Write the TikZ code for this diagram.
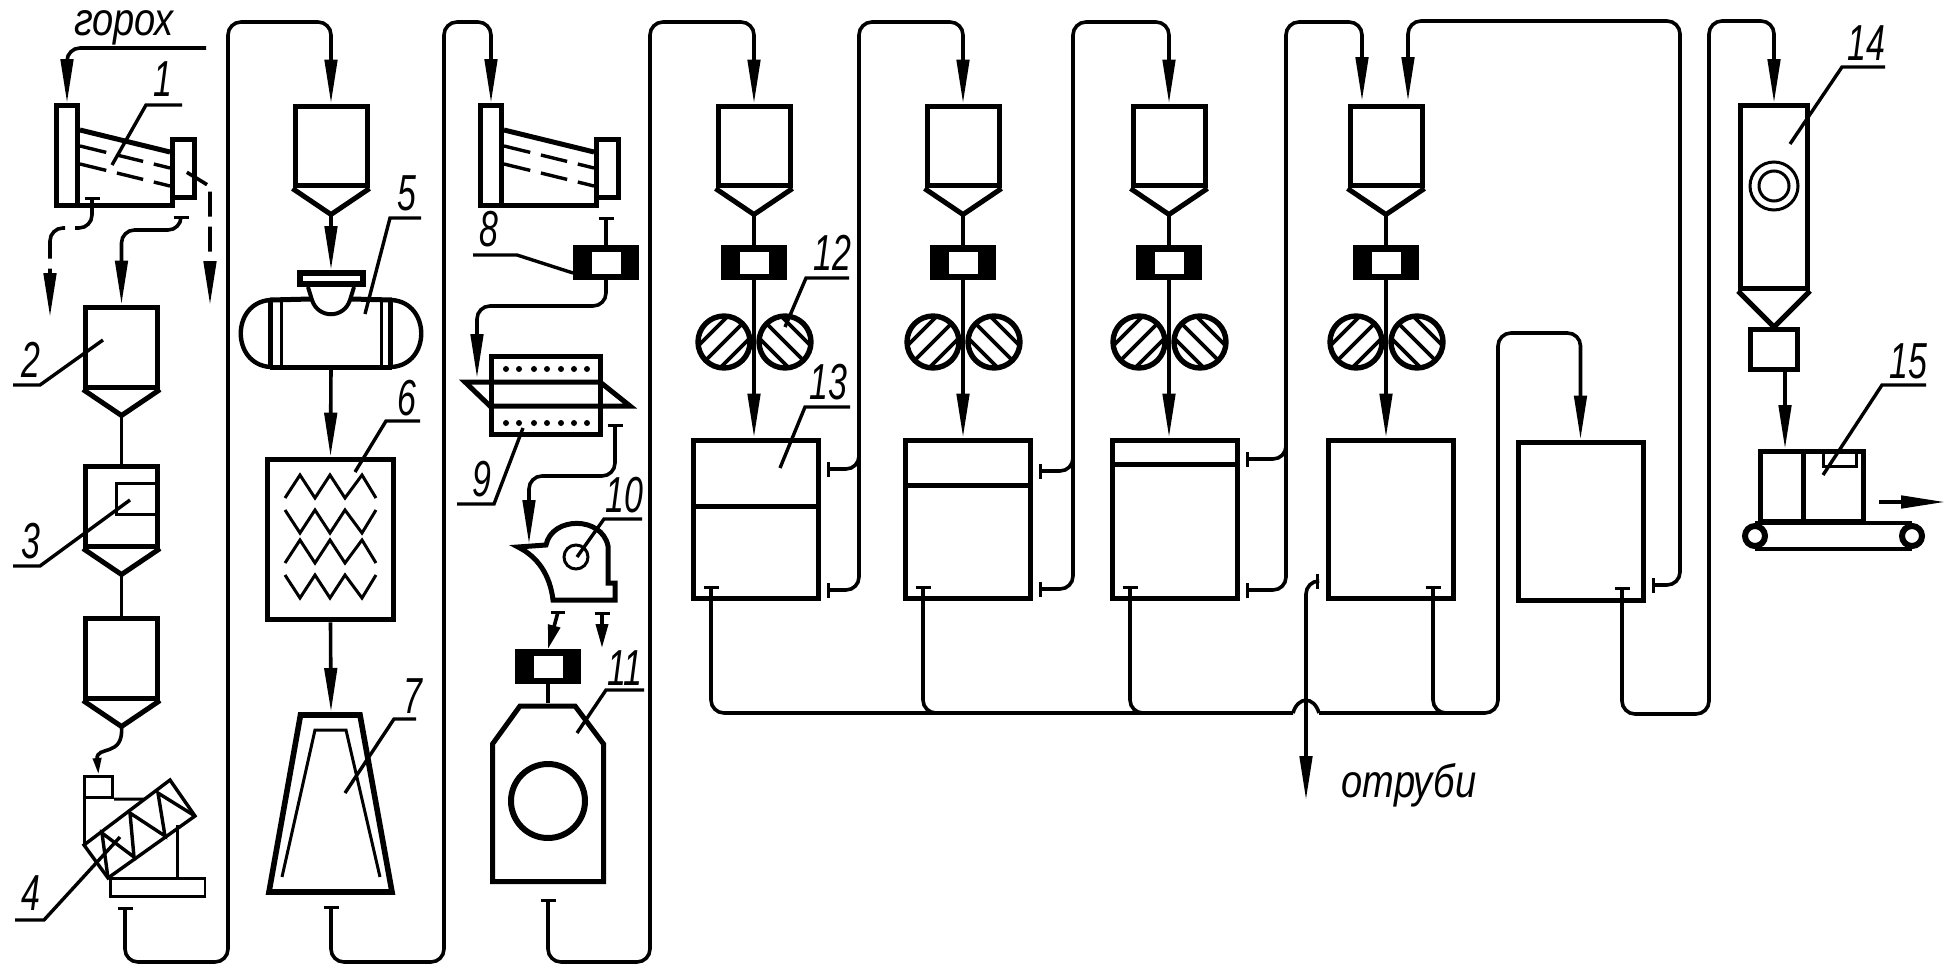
\documentclass[tikz,border=0pt]{standalone}
\usepackage{fontspec}
\setmainfont{Liberation Sans}
\newfontfamily\numfont[FakeStretch=0.67]{Liberation Sans}
\newfontfamily\wordfont[FakeStretch=0.82]{Liberation Sans}
\usetikzlibrary{arrows.meta,calc}

% hopper body with its cone
\newcommand{\hopper}[2]{%
  \node[bunker] (#1) at (#2) {};
  \coordinate (#1tip) at ($(#1.south)+(0,26)$);
  \draw[wall] (#1.south west) -- (#1tip) -- (#1.south east);}
% magnet block with its window
\newcommand{\magnet}[2]{%
  \node[magcase] (#1) at (#2) {};
  \node[magwin] (#1w) at (#1) {};}
% number with leader: name, digit, base of digit, tip, knee, end
\newcommand{\callout}[6]{%
  \node[num] (#1) at (#3) {#2};
  \coordinate (#1tip) at (#4);
  \coordinate (#1knee) at (#5);
  \coordinate (#1end) at (#6);
  \draw[leader] (#1tip) -- (#1knee) -- (#1end);}
% sifter: name, shift
\newcommand{\sifter}[2]{%
  \begin{scope}[xshift=#2*0.05cm]
    \node[wallbox, minimum width=1.05cm, minimum height=5cm] (#1a) at (67,155.5) {};
    \node[wallbox, minimum width=1.1cm, minimum height=2.9cm] (#1b) at (183.5,168.5) {};
    \draw[wall] (#1a.east |- 0,130) -- (170,152);
    \draw[wall] (#1a.east |- 0,205.5) -- (172.5,205.5) -- (172.5,198);
    \draw[sieve] (#1a.east |- 0,146) -- (170,168);
    \draw[sieve] (#1a.east |- 0,164) -- (170,186);
  \end{scope}}
% mill stage: letter, x
\newcommand{\millstage}[2]{%
  \hopper{HP#1}{#2,146}
  \magnet{MG#1}{#2,262.5}
  \node[rollL] (RL#1) at (#2-30,342) {};
  \node[rollR] (RR#1) at (#2+31,342) {};
  \draw[feed] (HP#1tip) -- (MG#1.north);
  \draw[pipe,->] (MG#1.south) -- (MG#1.south |- TK#1.north);}

\begin{document}
\begin{tikzpicture}[
  x=0.05cm, y=-0.05cm,
  >={Triangle[length=2.2cm,width=0.62cm]},
  tee/.tip={Bar[width=0.75cm,line width=0.15cm]},
  short/.tip={Triangle[length=1.2cm,width=0.6cm]},
  wall/.style={line width=0.25cm},
  wallbox/.style={wall, draw, inner sep=0pt},
  thinbox/.style={line width=0.15cm, draw, inner sep=0pt},
  bunker/.style={wallbox, minimum width=3.6cm, minimum height=4cm},
  tank/.style={wallbox, minimum width=6.25cm, minimum height=7.9cm},
  magcase/.style={fill=black, inner sep=0pt, outer sep=0pt, minimum width=3.32cm, minimum height=1.75cm},
  magwin/.style={fill=white, inner sep=0pt, outer sep=0pt, minimum width=1.45cm, minimum height=1.1cm},
  rollL/.style={circle, draw, line width=0.27cm, inner sep=0pt, minimum size=2.6cm,
    path picture={\foreach \k in {-11,0,11}
      \draw[line width=0.18cm] ([shift={(\k-30,\k+30)}]path picture bounding box.center) -- ++(60,-60);}},
  rollR/.style={circle, draw, line width=0.27cm, inner sep=0pt, minimum size=2.6cm,
    path picture={\foreach \k in {-11,0,11}
      \draw[line width=0.18cm] ([shift={(\k-30,-\k-30)}]path picture bounding box.center) -- ++(60,60);}},
  pulley/.style={circle, draw, fill=white, line width=0.3cm, inner sep=0pt, minimum size=1cm},
  sieve/.style={line width=0.17cm, dash pattern=on 1.35cm off 0.55cm},
  thin line/.style={line width=0.15cm},
  leader/.style={line width=0.17cm},
  feed/.style={line width=0.18cm},
  pipe/.style={line width=0.18cm, rounded corners=0.65cm},
  scrap/.style={pipe, dash pattern=on 2cm off 0.5cm},
  num/.style={anchor=base, inner sep=0pt, font=\numfont\itshape\fontsize{72}{72}\selectfont},
  word/.style={anchor=base, inner sep=0pt, font=\wordfont\itshape\fontsize{66}{66}\selectfont},
]
\useasboundingbox (0,0) rectangle (1950,964);

% ---- tanks ----
\node[tank] (TKA) at (756,519) {};
\node[tank] (TKB) at (968,519) {};
\node[tank] (TKC) at (1174.5,519) {};
\node[tank] (TKD) at (1391,519) {};
\node[tank] (TKE) at (1580.5,521) {};
\draw[wall] (TKA.west |- 0,506) -- (TKA.east |- 0,506);
\draw[wall] (TKB.west |- 0,485) -- (TKB.east |- 0,485);
\draw[wall] (TKC.west |- 0,464) -- (TKC.east |- 0,464);

% ---- mill stages ----
\millstage{A}{754}
\millstage{B}{963}
\millstage{C}{1169}
\millstage{D}{1386}

% ---- first column ----
\node[word] (PEA) at (124,36) {горох};
\sifter{SA}{0}
\hopper{HPP}{121.5,347}
\hopper{HPQ}{121.5,506}
\hopper{HPR}{121.5,658}
\node[thinbox, minimum width=2.08cm, minimum height=1.55cm] (MAG3) at (136.8,498.5) {};
\node[thinbox, minimum width=1.4cm, minimum height=1.05cm, line width=0.15cm] (SC4) at (98.5,787) {};
\node[thinbox, minimum width=4.75cm, minimum height=0.9cm] (BS4) at (157.5,887) {};
\draw[thin line] (84,797) -- (84,845);
\draw[thin line] (SC4.south east) -- (145,799);
\draw[line width=0.17cm] (84,845) -- (170,780) -- (195,816) -- (108,878) -- cycle;
\draw[line width=0.17cm] (108,878) -- (102,833) -- (134,857) -- (130,813) -- (165,836) -- (158,793) -- (195,816);
\draw[thin line] (177,825) -- (BS4.north -| 177,0);

% ---- second column ----
\hopper{HPS}{331,146}
\node[wallbox, line width=0.3cm, minimum width=3.15cm, minimum height=0.55cm] (M5) at (331,278.5) {};
\draw[line width=0.2cm] (308,287) -- (312,300) .. controls (318,319) and (344,319) .. (350,300) -- (354,287);
\draw[wall] (270,300) -- (311,299);
\draw[wall] (351,299) -- (392,300);
\draw[wall] (270,367) -- (392,367);
\draw[wall] (270.5,300) -- (270.5,367);
\draw[thin line] (281,300) -- (281,367);
\draw[thin line] (381,300) -- (381,367);
\draw[wall] (390.5,300) -- (390.5,367);
\draw[line width=0.22cm] (270,300) .. controls (231,303) and (231,364) .. (270,367);
\draw[line width=0.22cm] (392,300) .. controls (431,303) and (431,364) .. (392,367);
\coordinate (M5out) at (331,367);
\node[wallbox, line width=0.28cm, minimum width=6.3cm, minimum height=8cm] (M6) at (330.5,539.5) {};
\draw[thin line] (285,498) -- (300,475) -- (315,498) -- (330,475) -- (345,498) -- (362,475) -- (376,498);
\draw[thin line] (285,510) -- (300,533) -- (315,510) -- (330,533) -- (345,510) -- (362,533) -- (376,510);
\draw[thin line] (285,563) -- (300,540) -- (315,563) -- (330,540) -- (345,563) -- (362,540) -- (376,563);
\draw[thin line] (285,575) -- (300,598) -- (315,575) -- (330,598) -- (345,575) -- (362,598) -- (376,575);
\coordinate (M7top) at (331,712);
\draw[line width=0.28cm] (300.5,715) -- (360,715) -- (392,892) -- (269,892) -- cycle;
\draw[thin line] (282,877) -- (315,730) -- (346,730) -- (380,877);

% ---- third column ----
\sifter{SB}{424}
\magnet{M8}{606,262.5}
\node[wallbox, minimum width=5.45cm, minimum height=3.9cm] (M9) at (546,395.5) {};
\foreach \dotx in {506,519,534,547,561,574,587} {
  \fill (\dotx,369) circle [radius=3];
  \fill (\dotx,423) circle [radius=3];
}
\draw[wall] (465,382) -- (600,382) -- (630,406) -- (490,406) -- cycle;
\draw[wall] (518,547) -- (546,545) .. controls (552,516) and (602,516) .. (608,546) -- (608,583)
  -- (615,583) -- (615,600) -- (553,600) .. controls (550,575) and (538,557) .. cycle;
\draw[thin line] (576,557) circle [radius=12];
\coordinate (M10in) at (529,544);
\magnet{M11m}{548,666.5}
\draw[wall] (520,706) -- (575,706) -- (603.5,744) -- (603.5,881.5) -- (492.5,881.5) -- (492.5,744) -- cycle;
\draw[line width=0.3cm] (548,801) circle [radius=37];
\coordinate (M11top) at (548,703);
\draw[feed] (M11m.south) -- (M11top);

% ---- last column ----
\node[wallbox, minimum width=3.35cm, minimum height=9.15cm] (HPT) at (1774,197) {};
\node[wallbox, minimum width=2.35cm, minimum height=2cm] (BX14) at (1774,349.5) {};
\draw[wall] (HPT.south west) -- (BX14.north) -- (HPT.south east);
\node[wallbox, minimum width=5.15cm, minimum height=3.5cm] (P15) at (1812,486.5) {};
\draw[wall] (1803,451) -- (1803,522);
\draw[thin line] (1823,451) -- (1823,466) -- (1856,466) -- (1856,451);
\node[pulley] (PUa) at (1755,536) {};
\node[pulley] (PUb) at (1912,536) {};
\draw[line width=0.2cm] (PUa.north) -- (PUb.north);
\draw[line width=0.2cm] (PUa.south) -- (PUb.south);
\coordinate (BLTa) at (1879,502);
\coordinate (BLTb) at (1945,502);
\draw[pipe,->] (BLTa) -- (BLTb);

% ---- first column flow ----
\coordinate (PEAin) at (206,48);
\coordinate (SAw) at (92,197);
\coordinate (SAg) at (50,317);
\coordinate (SAm) at (181,216);
\coordinate (SAo) at (188,173);
\coordinate (SAr) at (210,305);
\draw[pipe,->] (PEAin) -| (SAa.north);
\draw[scrap,tee->] (SAw) -- ++(0,31) -| (SAg);
\draw[pipe,tee->] (SAm) -- ++(0,14) -| (HPP.north);
\draw[scrap,->,dash pattern=on 1.25cm off 0.5cm] (SAo) -- (198,179) .. controls (206,184) and (210,190) .. (210,202) -- (SAr);
\draw[feed] (HPPtip) -- (HPQ.north);
\draw[feed] (HPQtip) -- (HPR.north);
\draw[feed,-{Triangle[length=0.85cm,width=0.4cm]}] (HPRtip) .. controls (124,758) and (96,745) .. (SC4.north);

% ---- loops between columns ----
\coordinate (M4out) at (125,907);
\coordinate (M7out) at (331,906);
\coordinate (M11out) at (548,899);
\draw[pipe,tee->] (M4out) |- (228,962) -- (228,22) -| (HPS.north);
\draw[feed,->] (HPStip) -- (M5.north);
\draw[feed,->] (M5out) -- (M6.north);
\draw[feed,->] (M6.south) -- (M7top);
\draw[pipe,tee->] (M7out) |- (444,962) -- (444,22) -| (SBa.north);

% ---- third column flow ----
\coordinate (M8in) at (606,217);
\coordinate (M9in) at (477,378);
\coordinate (M9out) at (615,424);
\coordinate (DRa) at (558,612);
\coordinate (DRb) at (602,612);
\coordinate (DRc) at (602,648);
\draw[feed,tee-] (M8in) -- (M8.north);
\draw[pipe,->] (M8.south) -- ++(0,26) -| (M9in);
\draw[pipe,tee->] (M9out) -- ++(0,52) -| (M10in);
\draw[thin line] ([xshift=-0.37cm]DRa) -- ([xshift=0.37cm]DRa);
\draw[feed,-short] (DRa) -- (M11m.north);
\draw[feed,tee-short] (DRb) -- (DRc);
\draw[pipe,tee->] (M11out) |- (650,962) -- (650,22) -| (HPA.north);

% ---- tank overflow ----
\coordinate (TAu) at (827,469);
\coordinate (TAl) at (827,590);
\coordinate (TBu) at (1039,471);
\coordinate (TBl) at (1039,589);
\coordinate (TCu) at (1246,459);
\coordinate (TCl) at (1246,590);
\coordinate (TDd) at (1319,581);
\coordinate (TDo) at (1306,800);
\coordinate (TEu) at (1652,585);
\coordinate (HDl) at (1362,101);
\coordinate (HDr) at (1408,101);
\draw[pipe,tee->] (TAl) -| (859,22) -| (HPB.north);
\draw[pipe,tee-] (TAu) -| (859,445);
\draw[pipe,tee->] (TBl) -| (1073,22) -| (HPC.north);
\draw[pipe,tee-] (TBu) -| (1073,445);
\draw[pipe,tee->] (TCl) -| (1286,22) -| (HDl);
\draw[pipe,tee-] (TCu) -| (1286,435);
\draw[pipe,tee->] (TEu) -| (1680,21) -| (HDr);
\draw[pipe,tee->] (TDd) -| (TDo);

% ---- collector under the tanks ----
\coordinate (TAo) at (711,586);
\coordinate (TBo) at (923,586);
\coordinate (TCo) at (1130,586);
\coordinate (TDb) at (1433,586);
\coordinate (TEo) at (1622,587);
\coordinate (BMa) at (1293,713);
\coordinate (BMb) at (1319,713);
\draw[pipe,tee-] (TAo) |- (BMa);
\draw[pipe,tee-] (TBo) |- (960,713);
\draw[pipe,tee-] (TCo) |- (1170,713);
\draw[pipe,tee-] (TDb) |- (1470,713);
\draw[feed] (BMa) .. controls (1298,696) and (1314,696) .. (BMb);
\draw[pipe,->] (BMb) -| (1498,333) -| (TKE.north);
\draw[pipe,tee->] (TEo) |- (1709,714) -- (1709,21) -| (HPT.north);

% ---- packing ----
\coordinate (P15in) at (1785,449);
\draw[feed,->] (BX14.south -| P15in) -- (P15in);

% ---- numbers ----
\callout{n1}{1}{163,97}{112,165}{146,105}{182,105}
\callout{n2}{2}{31,377}{103,340}{40,385}{13,385}
\callout{n3}{3}{31,558}{130,500}{40,566}{13,566}
\callout{n4}{4}{31,910}{120,837}{44,920}{15,920}
\callout{n5}{5}{407,210}{365,314}{390,218}{421,218}
\callout{n6}{6}{407,415}{355,472}{386,421}{420,421}
\callout{n7}{7}{413,713}{345,793}{394,719}{416,719}
\callout{n8}{8}{489,246}{573,273}{517,255}{473,255}
\callout{n9}{9}{482,496}{523,428}{494,504}{457,504}
\callout{n10}{10}{624,512}{577,557}{604,519}{642,519}
\callout{n11}{11}{625,685}{577,733}{606,690}{644,690}
\callout{n12}{12}{832,270}{785,327}{806,278}{849,278}
\callout{n13}{13}{828,399}{780,468}{805,407}{850,407}
\callout{n14}{14}{1866,61}{1790,144}{1842,67}{1885,67}
\callout{n15}{15}{1908,378}{1823,475}{1882,385}{1926,385}
\node[word] (BRAN) at (1409,797) {отруби};

% ---- hopper 14 ring ----
\draw[thin line] (1774,186) circle [radius=24];
\draw[thin line] (1774,186) circle [radius=15];
\end{tikzpicture}
\end{document}
